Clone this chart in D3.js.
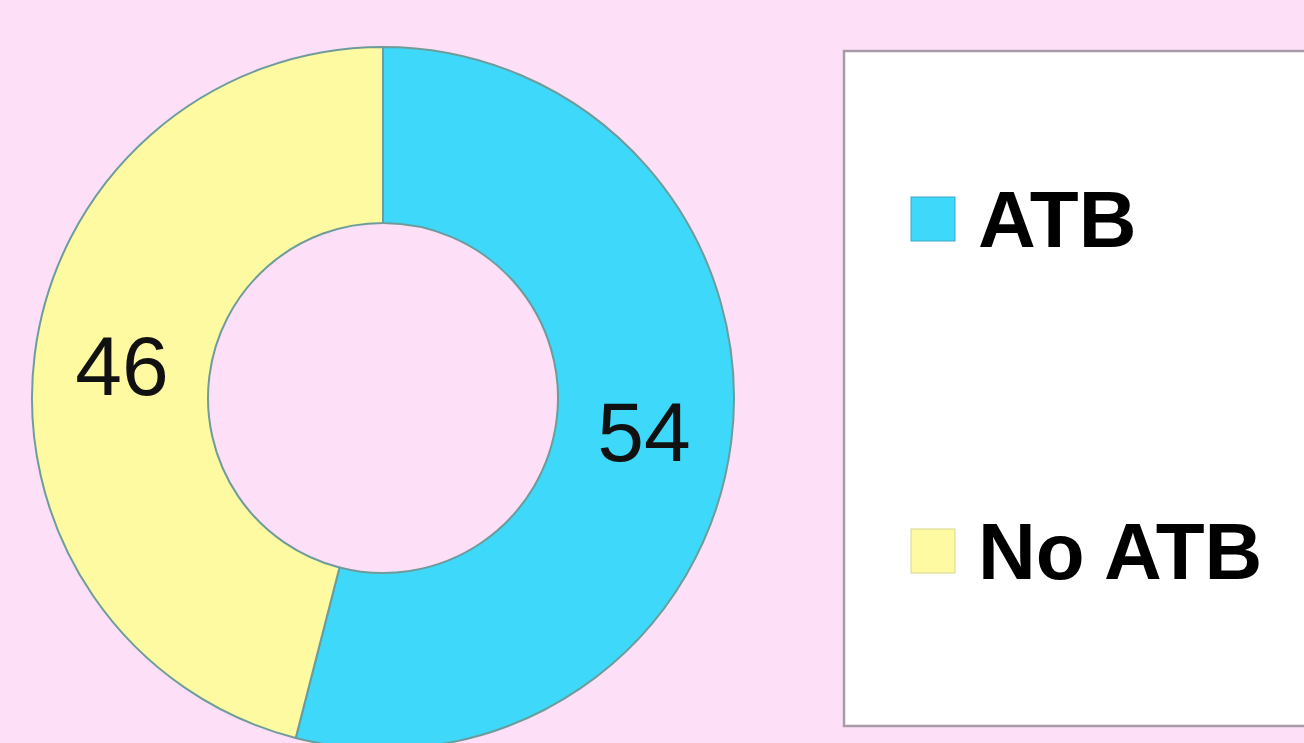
<!DOCTYPE html>
<html><head><meta charset="utf-8">
<script src="https://cdn.jsdelivr.net/npm/d3@7"></script>
<style>html,body{margin:0;padding:0;background:#fde0f8;overflow:hidden}</style>
</head><body>
<svg id="chart" width="1304" height="743"></svg>
<script>
const categories = ["ATB", "No ATB"];
const values = [54, 46];
const colors = ["#3dd8fa", "#fdfaa2"];

const svg = d3.select("#chart");
svg.append("rect").attr("width",1304).attr("height",743).attr("fill","#fde0f8");

const cx = 383, cy = 398, rOuter = 351, rInner = 175;
const pie = d3.pie().sort(null).value(d => d)(values);
const arc = d3.arc().innerRadius(rInner).outerRadius(rOuter);
const g = svg.append("g").attr("transform", `translate(${cx},${cy})`);

g.selectAll("path").data(pie).join("path")
  .attr("d", arc)
  .attr("fill", (d,i) => colors[i])
  .attr("stroke", "#6f9c9a")
  .attr("stroke-width", 2);

const labelArc = d3.arc().innerRadius((rInner+rOuter)/2).outerRadius((rInner+rOuter)/2);
g.selectAll("text").data(pie).join("text")
  .attr("transform", d => { const c = labelArc.centroid(d); return `translate(${c[0]},${c[1]})`; })
  .attr("text-anchor", "middle")
  .attr("dy", "0.36em")
  .attr("font-family", "Liberation Sans, Arial, sans-serif")
  .attr("font-size", 84)
  .attr("fill", "#111")
  .text(d => d.data);

// legend
svg.append("rect").attr("x", 844).attr("y", 51).attr("width", 500).attr("height", 675)
  .attr("fill", "#ffffff").attr("stroke", "#a99aa8").attr("stroke-width", 2.5);

const legendY = d3.scalePoint().domain(categories).range([219, 551]);
const lg = svg.append("g");
const items = lg.selectAll("g").data(categories).join("g")
  .attr("transform", d => `translate(911,${legendY(d)})`);
items.append("rect").attr("x", 0).attr("y", -22).attr("width", 44).attr("height", 44)
  .attr("fill", (d,i) => colors[i]).attr("stroke", (d,i)=> i===0 ? "#3aa8c8" : "#d8d890").attr("stroke-width", 1);
items.append("text").attr("x", 67).attr("y", 28)
  .attr("font-family", "Liberation Sans, Arial, sans-serif")
  .attr("font-weight", "bold").attr("font-size", 80).attr("fill", "#000")
  .text(d => d);
</script>
</body></html>
